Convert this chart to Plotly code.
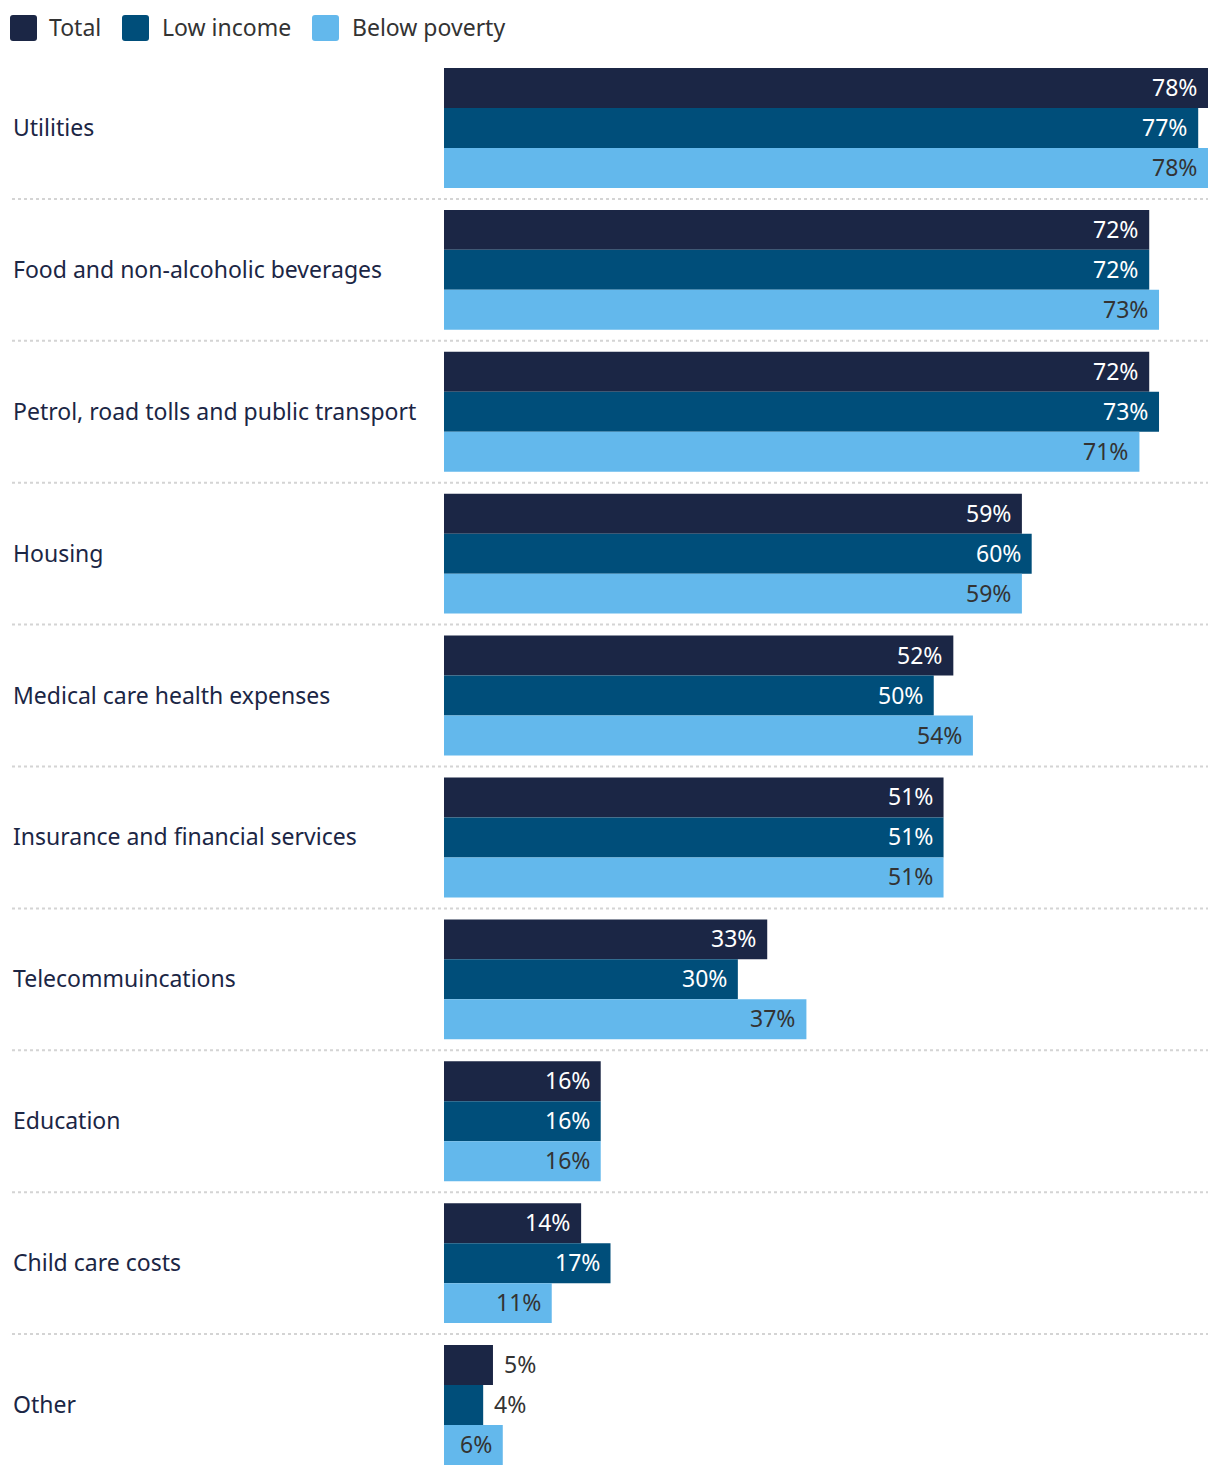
import plotly.graph_objects as go

categories = ["Utilities", "Food and non-alcoholic beverages", "Petrol, road tolls and public transport",
              "Housing", "Medical care health expenses", "Insurance and financial services",
              "Telecommuincations", "Education", "Child care costs", "Other"]
series_names = ["Total", "Low income", "Below poverty"]
total = [78, 72, 72, 59, 52, 51, 33, 16, 14, 5]
low_income = [77, 72, 73, 60, 50, 51, 30, 16, 17, 4]
below_poverty = [78, 73, 71, 59, 54, 51, 37, 16, 11, 6]
series_values = [total, low_income, below_poverty]
colors = ["#1b2645", "#004e7a", "#63b8ec"]
label_colors = ["#ffffff", "#ffffff", "#333333"]

FONT = "Noto Sans"
FS = 23
OFF = 8  # page body margin
W, H = 1220 - OFF, 1476 - OFF
L, R, T, B = 444 - OFF, 12, 57 - OFF, 0
PW, PH = W - L - R, H - T - B

def px_x(px):
    return (px - OFF - L) / PW

def px_y(py):
    return 1 - (py - OFF - T) / PH

fig = go.Figure()
for name, vals, col in zip(series_names, series_values, colors):
    fig.add_trace(go.Bar(y=categories, x=vals, name=name, orientation="h",
                         marker=dict(color=col, line=dict(width=0)),
                         showlegend=False, hoverinfo="x+name"))

annotations = []
shapes = []
n = len(categories)
bar_w = (1 - 22 / 142) / 3
for ci, cat in enumerate(categories):
    annotations.append(dict(xref="paper", yref="y", x=px_x(11), y=ci, text=cat,
                            xanchor="left", yanchor="middle", showarrow=False, yshift=1,
                            font=dict(family=FONT, size=FS, color="#1b2645")))
    for si, vals in enumerate(series_values):
        v = vals[ci]
        yy = ci + (si - 1) * bar_w
        inside = v >= 6
        annotations.append(dict(xref="x", yref="y", x=v, y=yy, text=f"{v}%",
                                xanchor="right" if inside else "left",
                                xshift=-9 if inside else 9, yshift=1,
                                yanchor="middle", showarrow=False,
                                font=dict(family=FONT, size=FS,
                                          color=label_colors[si] if inside else "#333333")))
    if ci < n - 1:
        shapes.append(dict(type="line", xref="paper", yref="y", x0=px_x(12), x1=1,
                           y0=ci + 0.5, y1=ci + 0.5,
                           line=dict(color="#d4d4d4", width=2, dash="dot")))

def cx(p):
    return px_x(p)

def cy(p):
    return px_y(p)

leg_sq_x = [10, 122, 312]
leg_txt_x = [47, 160, 350]
for name, col, sx, tx in zip(series_names, colors, leg_sq_x, leg_txt_x):
    x0, x1, y0, y1 = sx, sx + 27, 15, 41
    r = 3
    path = (f"M {cx(x0+r)},{cy(y0)} L {cx(x1-r)},{cy(y0)} Q {cx(x1)},{cy(y0)} {cx(x1)},{cy(y0+r)} "
            f"L {cx(x1)},{cy(y1-r)} Q {cx(x1)},{cy(y1)} {cx(x1-r)},{cy(y1)} "
            f"L {cx(x0+r)},{cy(y1)} Q {cx(x0)},{cy(y1)} {cx(x0)},{cy(y1-r)} "
            f"L {cx(x0)},{cy(y0+r)} Q {cx(x0)},{cy(y0)} {cx(x0+r)},{cy(y0)} Z")
    shapes.append(dict(type="path", xref="paper", yref="paper", path=path,
                       fillcolor=col, line=dict(width=0)))
    annotations.append(dict(xref="paper", yref="paper", x=px_x(tx), y=px_y(27), text=name,
                            xanchor="left", yanchor="middle", showarrow=False,
                            font=dict(family=FONT, size=FS, color="#333333")))

fig.update_layout(
    width=W, height=H,
    margin=dict(l=L, r=R, t=T, b=B, pad=0),
    barmode="group", bargap=22 / 142, bargroupgap=0,
    plot_bgcolor="white", paper_bgcolor="white",
    xaxis=dict(range=[0, 78], visible=False, fixedrange=True),
    yaxis=dict(autorange="reversed", showticklabels=False, showgrid=False,
               zeroline=False, showline=False, ticks="", fixedrange=True),
    annotations=annotations, shapes=shapes,
    font=dict(family=FONT),
)

fig.write_html("out.html")
